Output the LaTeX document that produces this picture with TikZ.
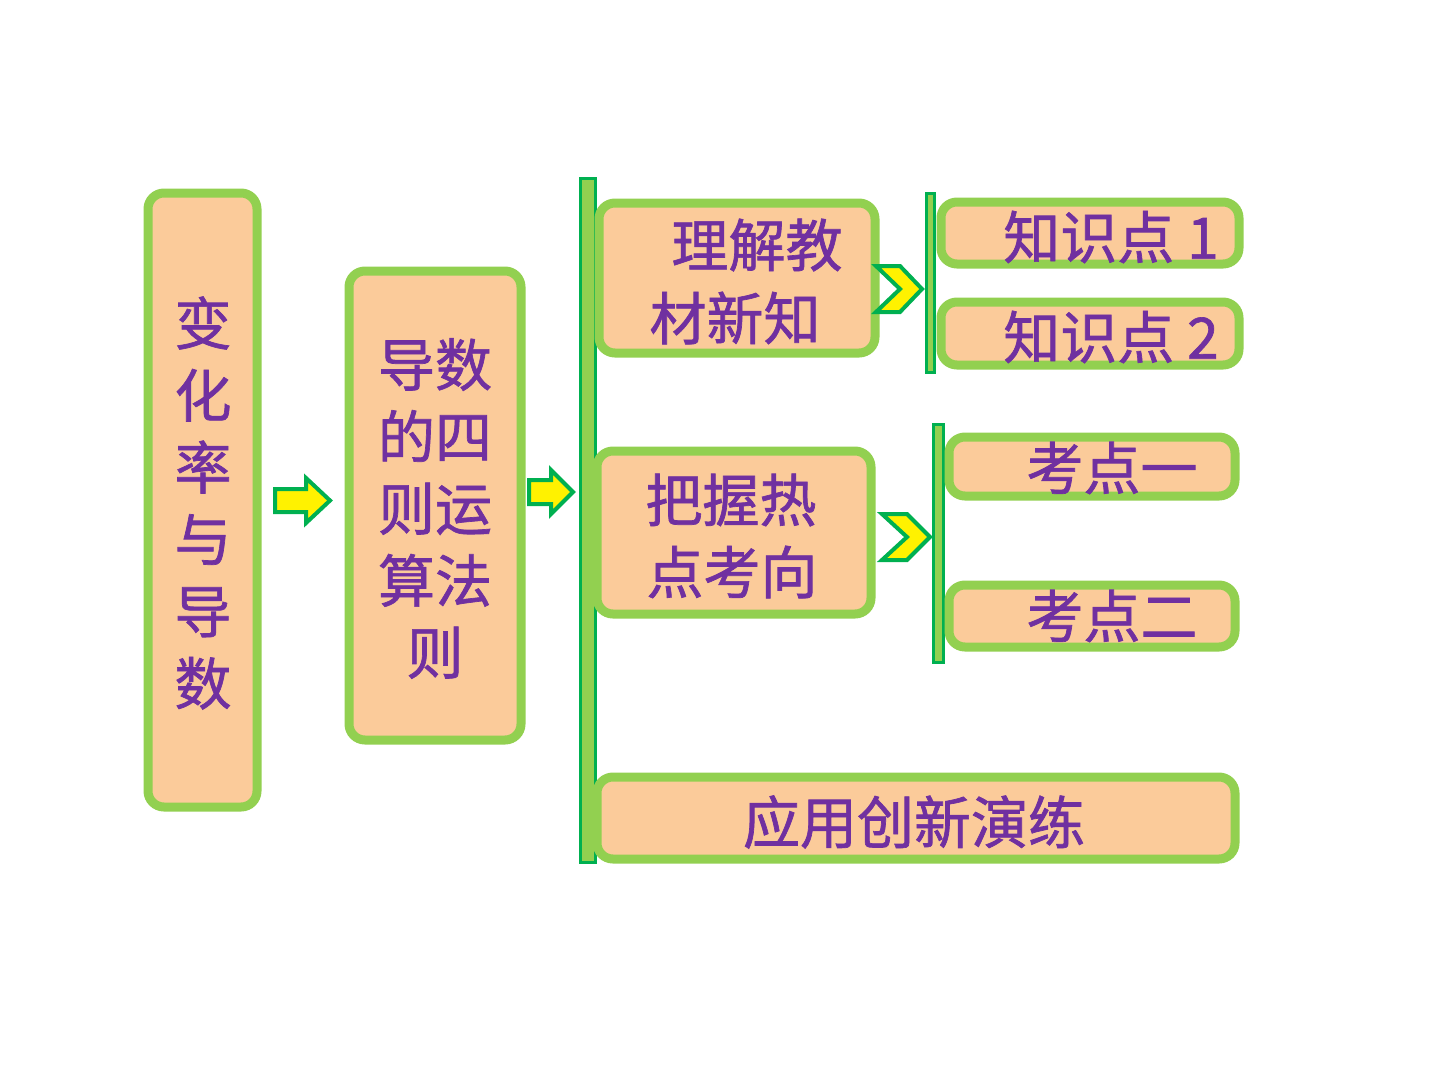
\documentclass[tikz,border=0pt]{standalone}
\usepackage{fontspec}
\newfontfamily\cjk{Noto Sans CJK SC}[FakeBold=1.2]
\definecolor{boxfill}{HTML}{FBCB9A}
\definecolor{boxline}{HTML}{92D050}
\definecolor{darkgr}{HTML}{00B050}
\definecolor{txt}{HTML}{7030A0}
\tikzset{
  box/.style={draw=boxline, fill=boxfill, line width=9pt, rounded corners=16pt, inner sep=0pt},
  bar/.style={draw=darkgr, fill=boxline, line width=3pt},
  blockarrow/.style={draw=darkgr, fill=yellow, line width=4pt, line join=miter},
  lbl/.style={text=txt, font=\cjk\fontsize{57}{72}\selectfont, inner sep=0pt, align=center}
}
\begin{document}
\begin{tikzpicture}[x=1pt,y=-1pt]
\useasboundingbox (0,0) rectangle (1440,1080);
% bars
\draw[bar] (580.5,178.5) rectangle (595.5,862.5);
\draw[bar] (926,193) rectangle (934,372);
\draw[bar] (933.5,424.5) rectangle (943.5,662);
% boxes
\node[box, minimum width=109pt, minimum height=614pt] (b1) at (202.5,500) {};
\node[box, minimum width=172pt, minimum height=469pt] (b2) at (435,505.5) {};
\node[box, minimum width=276pt, minimum height=150pt] (b3) at (737,278) {};
\node[box, minimum width=298pt, minimum height=62pt] (k1) at (1090,233) {};
\node[box, minimum width=298pt, minimum height=63pt] (k2) at (1090,333.5) {};
\node[box, minimum width=274pt, minimum height=163pt] (b4) at (734,532.5) {};
\node[box, minimum width=286pt, minimum height=59pt] (p1) at (1092,466.5) {};
\node[box, minimum width=286pt, minimum height=62pt] (p2) at (1092,616) {};
\node[box, minimum width=638pt, minimum height=82pt] (b5) at (916,818) {};
% texts
\node[lbl] (t1) at (203,503) {变\\化\\率\\与\\导\\数};
\node[lbl] (t2) at (435,508.5) {导数\\的四\\则运\\算法\\则};
\node[lbl] (t3a) at (757,245) {理解教};
\node[lbl] (t3b) at (735,318) {材新知};
\node[lbl] (tk1) at (1111,237) {知识点 1};
\node[lbl] (tk2) at (1111,337) {知识点 2};
\node[lbl] (t4a) at (731,500) {把握热};
\node[lbl] (t4b) at (732,572) {点考向};
\node[lbl] (tp1) at (1112,468) {考点一};
\node[lbl] (tp2) at (1112,616) {考点二};
\node[lbl] (t5) at (914,822) {应用创新演练};
% block arrows
\draw[blockarrow] (275,489) -- (306,489) -- (306,478) -- (330,500.5) -- (306,523) -- (306,512) -- (275,512) -- cycle;
\draw[blockarrow] (529,480) -- (551,480) -- (551,470) -- (573,492) -- (551,514) -- (551,504) -- (529,504) -- cycle;
% chevrons
\draw[blockarrow] (876,266) -- (900,266) -- (922,289) -- (900,312) -- (876,312) -- (900,289) -- cycle;
\draw[blockarrow] (882,514) -- (907,514) -- (930,537) -- (907,560) -- (882,560) -- (907,537) -- cycle;
\end{tikzpicture}
\end{document}
